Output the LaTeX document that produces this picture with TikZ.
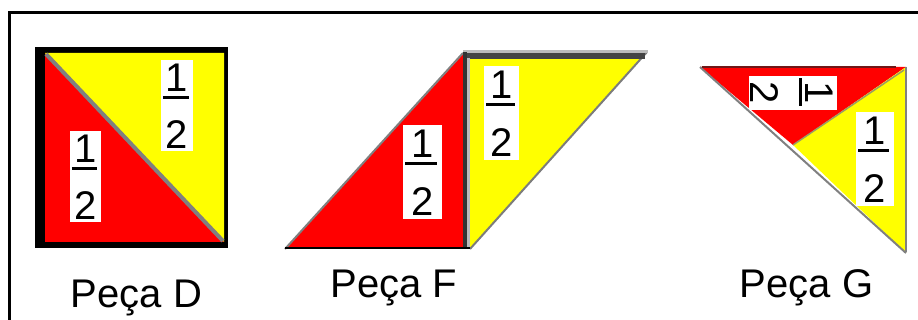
\documentclass[tikz,border=0pt]{standalone}
\usepackage{fontspec}
\setmainfont{Liberation Sans}
\definecolor{pred}{HTML}{FF0000}
\definecolor{pyel}{HTML}{FFFF00}
\definecolor{pgray}{HTML}{808080}
\definecolor{pdark}{HTML}{444444}
\definecolor{plight}{HTML}{BBBBBB}
\definecolor{pmaroon}{HTML}{701818}
\tikzset{
  digit/.style={font=\fontsize{40}{40}\selectfont, inner sep=0pt},
  piecelabel/.style={font=\fontsize{40}{40}\selectfont, inner sep=0pt, anchor=base},
  fracbg/.style={fill=white, inner sep=0pt, draw=none},
  fracbar/.style={line width=2.5pt},
  edge/.style={line width=2pt, pgray},
}
% name, cx, cy, w, h, rotation
\newcommand\halfbox[6]{%
  \begin{scope}[shift={(#2,#3)}, rotate=#6, transform shape]
    \node[fracbg, minimum width=#4pt, minimum height=#5pt] (#1) {};
    \node[digit] (#1-n) at (0,{0.305*#5}) {1};
    \node[digit] (#1-d) at (0,{-0.315*#5}) {2};
    \draw[fracbar] ({-0.44*#4},{0.09*#5}) -- ({0.38*#4},{0.09*#5});
  \end{scope}}
\begin{document}
\begin{tikzpicture}[x=1pt,y=1pt]
\useasboundingbox (0,0) rectangle (918,-320);
% frame
\draw[line width=3pt] (9,-322) -- (9,-13) -- (920,-13);

% ---- Peca D ----
\fill[black] (35,-47) rectangle (228,-248);
\fill[pred] (45,-53) -- (45,-242) -- (224,-242) -- cycle;
\fill[pyel] (45,-53) -- (224,-53) -- (224,-242) -- cycle;
\draw[line width=4pt, pgray] (46,-54) -- (223,-241);
\halfbox{dY}{177}{-105.5}{32}{91}{0}
\halfbox{dR}{85.5}{-176.5}{31}{91}{0}
\node[piecelabel] (labD) at (136.5,-308) {Peça D};

% ---- Peca F ----
\fill[pred] (285,-249) -- (465,-52) -- (465,-249) -- cycle;
\fill[pyel] (465,-52) -- (647,-52) -- (470,-249) -- cycle;
\draw[edge] (285,-249) -- (463,-53);
\draw[edge, pdark!70] (470,-249) -- (647,-52);
\draw[line width=3pt, plight] (463,-51.5) -- (648,-51.5);
\draw[line width=6pt, pdark] (463,-56) -- (645,-56);
\draw[line width=3pt, plight] (468,-58) -- (468,-247);
\draw[line width=3.5pt, black!80] (465,-52) -- (465,-249);
\draw[line width=2.5pt, black] (285,-248) -- (470,-248);
\halfbox{fR}{422.5}{-172}{39}{94}{0}
\halfbox{fY}{501.5}{-113}{35}{94}{0}
\node[piecelabel] (labF) at (394,-298) {Peça F};

% ---- Peca G ----
\fill[pred] (700,-67) -- (906,-67) -- (793,-145) -- cycle;
\fill[pyel] (906,-67) -- (906,-253) -- (793,-145) -- cycle;
\draw[edge] (700,-67) -- (906,-253);
\draw[line width=1.5pt, pgray!80!pyel] (793,-145) -- (904,-70);
\draw[line width=2.5pt, pmaroon] (702,-67) -- (896,-67);
\draw[line width=2.5pt, pgray] (906,-67) -- (906,-252);
\halfbox{gR}{792.5}{-93}{34}{88}{-90}
\halfbox{gY}{875}{-159}{38}{94}{0}
\node[piecelabel] (labG) at (806.5,-298) {Peça G};
\end{tikzpicture}
\end{document}
